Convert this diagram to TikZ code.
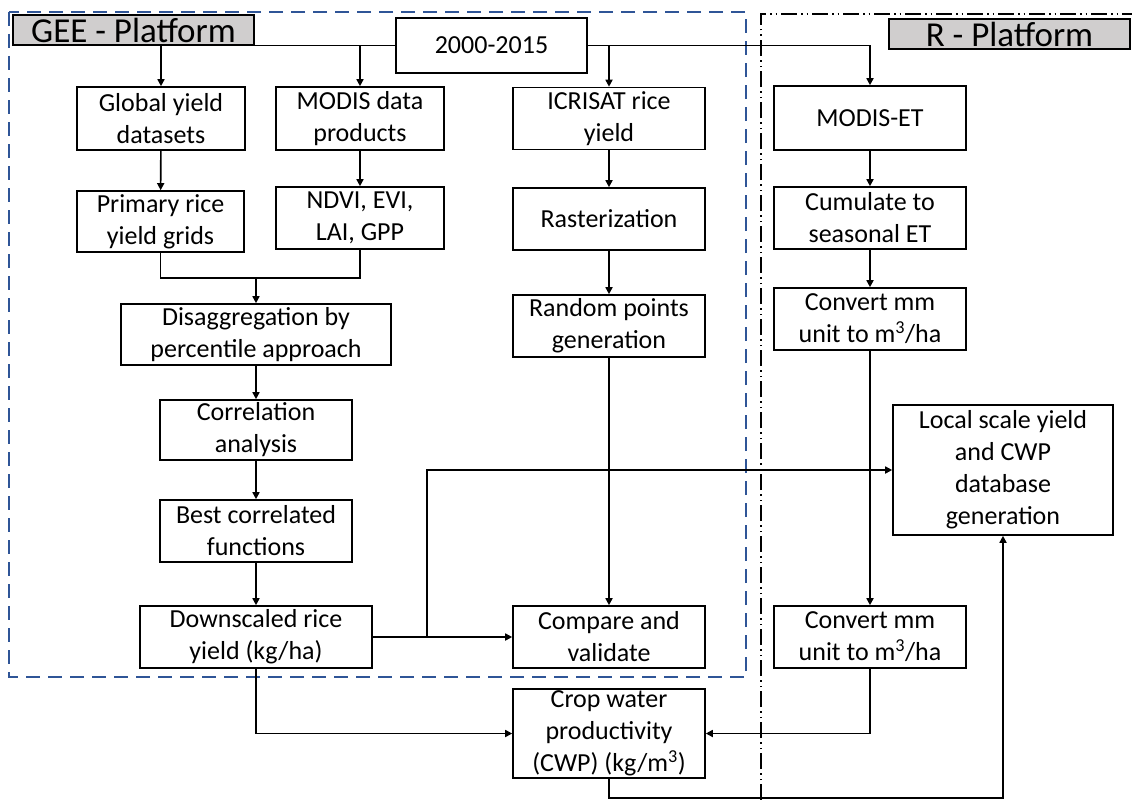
\documentclass[tikz,border=0pt]{standalone}
\usepackage{fontspec}
\setmainfont{Carlito}
\usetikzlibrary{arrows.meta}
\definecolor{geeblue}{HTML}{2F5597}
\definecolor{hdrgray}{HTML}{D0CECE}
\begin{document}
\begin{tikzpicture}[x=1pt,y=-1pt,
  box/.style={draw=black, line width=1.6pt, fill=white, align=center, inner sep=0pt,
    font=\fontsize{26}{32}\selectfont},
  hdr/.style={draw=black, line width=1.4pt, fill=hdrgray, inner sep=0pt,
    font=\fontsize{35}{40}\selectfont},
  conn/.style={line width=1.6pt},
  arr/.style={conn, -{Triangle[length=7pt,width=7pt]}}]
\useasboundingbox (0,0) rectangle (1132,800);
% platform frames
\draw[geeblue, line width=1.8pt, dash pattern=on 14pt off 8pt] (9,12) rectangle (746,677);
\draw[black, line width=1.6pt, dash pattern=on 16pt off 4pt on 1.5pt off 4pt on 1.5pt off 4pt]
  (761,800) -- (761,14) -- (1132,14);
% connectors from 2000-2015 (drawn first)
\node[box, minimum width=191pt, minimum height=55pt] (yr) at (491.5,45.5) {2000-2015};
\node[box, minimum width=168pt, minimum height=63pt] (glob) at (161,118.5) {Global yield\\datasets};
\node[box, minimum width=168pt, minimum height=63pt] (modis) at (360,118.5) {MODIS data\\products};
\node[box, minimum width=192pt, minimum height=62pt] (icri) at (609,118.5) {ICRISAT rice\\yield};
\node[box, minimum width=192pt, minimum height=64pt] (met) at (870,118) {MODIS-ET};
\draw[arr] (yr.west) -| (glob.north);
\draw[arr] (yr.west) -| (modis.north);
\draw[arr] (yr.east) -| (icri.north);
\draw[arr] (yr.east) -| (met.north);
% headers
\node[hdr, minimum width=241pt, minimum height=30pt] (gee) at (133.5,30) {GEE - Platform};
\node[hdr, minimum width=241pt, minimum height=30pt] (rp) at (1009.5,34) {R - Platform};
% remaining boxes
\node[box, minimum width=167pt, minimum height=61pt] (prim) at (160.5,221.5) {Primary rice\\yield grids};
\node[box, minimum width=168pt, minimum height=62pt] (ndvi) at (360,218) {NDVI, EVI,\\LAI, GPP};
\node[box, minimum width=192pt, minimum height=62pt] (rast) at (609,219) {Rasterization};
\node[box, minimum width=192pt, minimum height=62pt] (rand) at (609,326) {Random points\\generation};
\node[box, minimum width=270pt, minimum height=61pt] (disg) at (256,334.5) {Disaggregation by\\percentile approach};
\node[box, minimum width=192pt, minimum height=60pt] (corr) at (256,430) {Correlation\\analysis};
\node[box, minimum width=192pt, minimum height=62pt] (best) at (256,531) {Best correlated\\functions};
\node[box, minimum width=232pt, minimum height=62pt] (down) at (256,637) {Downscaled rice\\yield (kg/ha)};
\node[box, minimum width=192pt, minimum height=62pt] (comp) at (609,637) {Compare and\\validate};
\node[box, minimum width=192pt, minimum height=89pt] (crop) at (609,733.5) {Crop water\\productivity\\(CWP) (kg/m\textsuperscript{3})};
\node[box, minimum width=192pt, minimum height=62pt] (cum) at (870,218) {Cumulate to\\seasonal ET};
\node[box, minimum width=192pt, minimum height=62pt] (conv1) at (870,319) {Convert mm\\unit to m\textsuperscript{3}/ha};
\node[box, minimum width=192pt, minimum height=62pt] (conv2) at (870,637) {Convert mm\\unit to m\textsuperscript{3}/ha};
\node[box, minimum width=220pt, minimum height=130pt] (local) at (1003,470) {Local scale yield\\and CWP\\database\\generation};
% junction coordinates
\coordinate (mj) at (256,278);
\coordinate (br) at (427,637);
\coordinate (bt) at (609,798);
% left column
\draw[arr] (glob) -- (prim);
\draw[arr] (modis) -- (ndvi);
\draw[conn] (prim.south) |- (mj);
\draw[conn] (ndvi.south) |- (mj);
\draw[arr] (mj) -- (disg.north);
\draw[arr] (disg) -- (corr);
\draw[arr] (corr) -- (best);
\draw[arr] (best) -- (down);
\draw[arr] (down.east) -- (comp.west);
\draw[arr] (br) |- (local.west);
\draw[arr] (down.south) |- (crop.west);
% middle column
\draw[arr] (icri) -- (rast);
\draw[arr] (rast) -- (rand);
\draw[arr] (rand) -- (comp);
% right column
\draw[arr] (met) -- (cum);
\draw[arr] (cum) -- (conv1);
\draw[arr] (conv1) -- (conv2);
\draw[arr] (conv2.south) |- (crop.east);
\draw[arr] (crop.south) -- (bt) -| (local.south);
\end{tikzpicture}
\end{document}
